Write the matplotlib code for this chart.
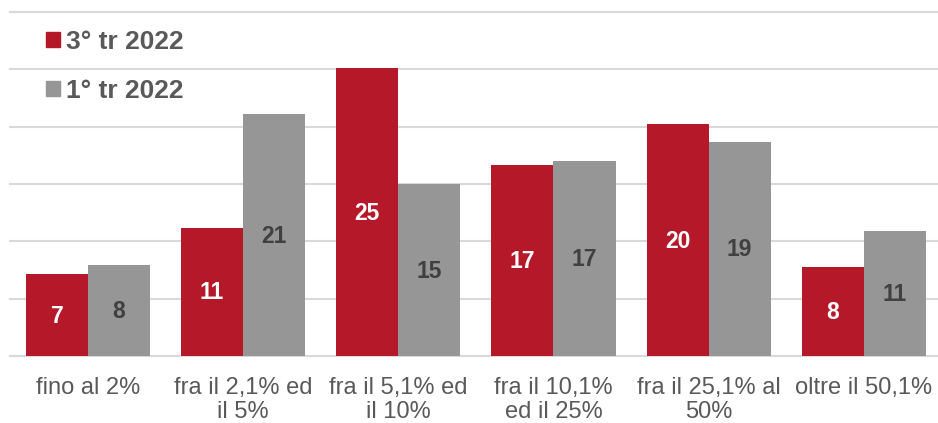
import numpy as np
import matplotlib
matplotlib.use("Agg")
import matplotlib.pyplot as plt
from matplotlib.patches import Patch

plt.rcParams['font.family'] = ['Liberation Sans', 'DejaVu Sans']

categorie = ["fino al 2%", "fra il 2,1% ed\nil 5%", "fra il 5,1% ed\nil 10%",
             "fra il 10,1%\ned il 25%", "fra il 25,1% al\n50%", "oltre il 50,1%"]
tr3_2022 = [7.15, 11.2, 25.1, 16.7, 20.2, 7.8]
tr1_2022 = [7.9, 21.1, 15.0, 17.0, 18.7, 10.9]
etich_tr3 = ["7", "11", "25", "17", "20", "8"]
etich_tr1 = ["8", "21", "15", "17", "19", "11"]

rosso = "#B51829"
grigio = "#969696"
testo = "#595959"

fig = plt.figure(figsize=(9.38, 4.23), dpi=100)
ax = fig.add_axes([10.4 / 938, 67 / 423, 931 / 938, 344 / 423])

x = np.arange(len(categorie))
w = 0.4
b1 = ax.bar(x - w / 2, tr3_2022, w, color=rosso, zorder=2)
b2 = ax.bar(x + w / 2, tr1_2022, w, color=grigio, zorder=2)

for r, lab in zip(b1, etich_tr3):
    ax.text(r.get_x() + r.get_width() / 2, r.get_height() / 2 - 0.1, lab,
            ha="center", va="center", color="white", fontsize=16.5, fontweight="bold")
for r, lab in zip(b2, etich_tr1):
    ax.text(r.get_x() + r.get_width() / 2, r.get_height() / 2 - 0.1, lab,
            ha="center", va="center", color="#404040", fontsize=16.5, fontweight="bold")

ax.set_xlim(-0.5, 5.5)
ax.set_ylim(0, 30)
ax.set_yticks(np.arange(0, 31, 5))
ax.yaxis.grid(True, color="#D9D9D9", linewidth=1.5, zorder=0)
ax.set_axisbelow(True)
for gl in ax.get_ygridlines():
    gl.set_clip_on(False)
ax.tick_params(axis="y", left=False, labelleft=False)
ax.tick_params(axis="x", length=0, pad=15, labelsize=17, labelcolor=testo)
ax.set_xticks(x)
ax.set_xticklabels(categorie, linespacing=1.15)
for s in ax.spines.values():
    s.set_visible(False)

handles = [Patch(color=rosso, label="3° tr 2022"), Patch(color=grigio, label="1° tr 2022")]
leg = ax.legend(handles=handles, loc="upper left", bbox_to_anchor=(46 / 938, 1 - 30 / 423),
                bbox_transform=fig.transFigure, frameon=False, prop={"size": 19, "weight": "bold"},
                handlelength=0.53, handleheight=0.53, handletextpad=0.22, labelspacing=0.95,
                borderpad=0, borderaxespad=0)
for t in leg.get_texts():
    t.set_color(testo)

fig.savefig("out.png", dpi=100)
